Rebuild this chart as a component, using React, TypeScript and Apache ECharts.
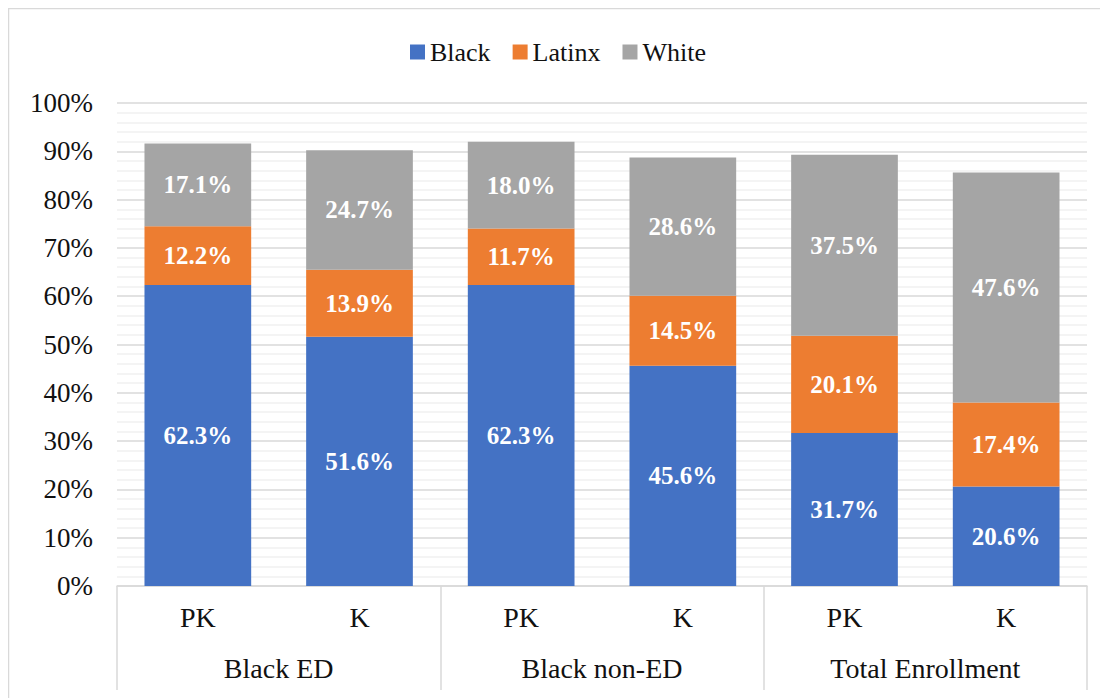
import React, { useEffect, useRef } from "react";
import * as echarts from "echarts";

const grades = ["PK", "K", "PK", "K", "PK", "K"];
const groups = ["Black ED", "Black non-ED", "Total Enrollment"];
const black = [62.3, 51.6, 62.3, 45.6, 31.7, 20.6];
const latinx = [12.2, 13.9, 11.7, 14.5, 20.1, 17.4];
const white = [17.1, 24.7, 18.0, 28.6, 37.5, 47.6];
const yTicks = [0, 10, 20, 30, 40, 50, 60, 70, 80, 90, 100];

const FONT = "Liberation Serif, serif";

export default function App() {
  const ref = useRef<HTMLDivElement>(null);

  useEffect(() => {
    if (!ref.current) return;
    const chart = echarts.init(ref.current, undefined, { renderer: "svg" });

    const labelStyle = {
      show: true,
      position: "inside" as const,
      color: "#ffffff",
      fontFamily: FONT,
      fontWeight: "bold" as const,
      fontSize: 25,
      formatter: (p: any) => `${Number(p.value).toFixed(1)}%`,
    };

    const mk = (name: string, data: number[], color: string) => ({
      name,
      type: "bar" as const,
      stack: "total",
      data,
      barCategoryGap: "34%",
      itemStyle: { color },
      label: labelStyle,
      emphasis: { disabled: true },
    });

    const text = (size: number) => ({
      fontFamily: FONT,
      fontSize: size,
      color: "#111111",
      fontWeight: "normal" as const,
    });

    chart.setOption({
      animation: false,
      textStyle: { fontFamily: FONT },
      graphic: [
        {
          type: "rect",
          shape: { x: 0.5, y: 0.5, width: 1300, height: 900 },
          style: { fill: "none", stroke: "#d9d9d9", lineWidth: 1.5 },
          silent: true,
        },
      ],
      legend: {
        top: 26,
        left: "center",
        itemWidth: 15,
        itemHeight: 15,
        itemGap: 22,
        icon: "rect",
        textStyle: text(26),
        data: ["Black", "Latinx", "White"],
      },
      grid: { left: 109, right: 21, top: 95, bottom: 112 },
      xAxis: [
        {
          type: "category",
          data: grades,
          position: "bottom",
          axisLine: { show: true, lineStyle: { color: "#d9d9d9", width: 1.5 } },
          axisTick: { show: false },
          axisLabel: { margin: 17, ...text(28) },
        },
        {
          type: "category",
          data: groups,
          position: "bottom",
          axisLine: { show: false },
          axisTick: { show: true, length: 104, lineStyle: { color: "#d9d9d9", width: 1.5 } },
          axisLabel: { margin: 68, ...text(28) },
        },
      ],
      yAxis: {
        type: "value",
        min: yTicks[0],
        max: yTicks[yTicks.length - 1],
        interval: 10,
        axisLine: { show: false },
        axisTick: { show: false },
        axisLabel: {
          margin: 24,
          ...text(27),
          formatter: (v: number) => `${v}%`,
        },
        splitLine: { show: true, lineStyle: { color: "#d9d9d9", width: 1.5 } },
        minorTick: { show: false, splitNumber: 5 },
        minorSplitLine: { show: true, lineStyle: { color: "#f0f0f0", width: 1.5 } },
      },
      series: [
        mk("Black", black, "#4472C4"),
        mk("Latinx", latinx, "#ED7D31"),
        mk("White", white, "#A5A5A5"),
      ],
    });

    return () => chart.dispose();
  }, []);

  return <div ref={ref} style={{ width: 1100, height: 690 }} />;
}
